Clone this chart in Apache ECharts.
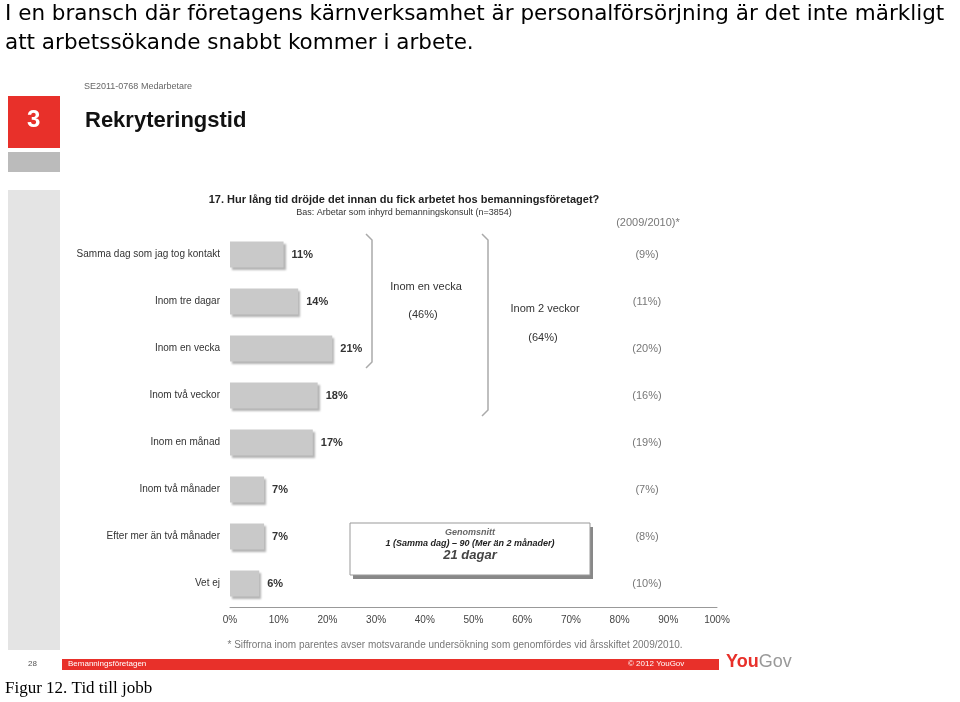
<!DOCTYPE html>
<html><head><meta charset="utf-8">
<script src="https://cdn.jsdelivr.net/npm/echarts@6/dist/echarts.min.js"></script>
<style>body{margin:0;background:#fff}#c{width:960px;height:702px}</style>
</head><body><div id="c"></div>
<script>
const categories = ['Samma dag som jag tog kontakt','Inom tre dagar','Inom en vecka','Inom två veckor','Inom en månad','Inom två månader','Efter mer än två månader','Vet ej'];
const values2012 = [11,14,21,18,17,7,7,6];
const prior = ['(9%)','(11%)','(20%)','(16%)','(19%)','(7%)','(8%)','(10%)'];
const xTicks = [0,10,20,30,40,50,60,70,80,90,100];

const chart = echarts.init(document.getElementById('c'));
const F = 'Liberation Sans, Arial, sans-serif';
function bracket(x, y1, y2, dir){
  return {type:'polyline', shape:{points:[[x-6*dir,y1],[x,y1+6],[x,y2-6],[x-6*dir,y2]]}, style:{stroke:'#aaa',lineWidth:1.5,fill:null}};
}
chart.setOption({
  animation:false,
  grid:{left:230,right:243,top:231,bottom:95},
  xAxis:{type:'value',min:0,max:100,interval:10,
    axisLine:{show:true,lineStyle:{color:'#999'}},axisTick:{show:false},splitLine:{show:false},
    axisLabel:{formatter:v=>v+'%',color:'#444',fontSize:10,fontFamily:F,margin:8}},
  yAxis:[{type:'category',inverse:true,data:categories,
    axisLine:{show:false},axisTick:{show:false},
    axisLabel:{color:'#333',fontSize:10,fontFamily:F,margin:10}},
   {type:'category',inverse:true,data:prior,position:'right',offset:-90,
    axisLine:{show:false},axisTick:{show:false},
    axisLabel:{color:'#777',fontSize:11,fontFamily:F,margin:20,align:'center'}}],
  series:[{type:'bar',data:values2012,barWidth:26,
    itemStyle:{color:'#c9c9c9',shadowColor:'rgba(0,0,0,0.3)',shadowBlur:2,shadowOffsetX:2,shadowOffsetY:2},
    label:{show:true,position:'right',formatter:'{c}%',fontFamily:F,fontWeight:'bold',fontSize:11,color:'#333',distance:8}}],
  graphic:[
    {type:'text',left:5,top:0,style:{text:'I en bransch där företagens kärnverksamhet är personalförsörjning är det inte märkligt\natt arbetssökande snabbt kommer i arbete.',font:'21.5px "DejaVu Sans"',fill:'#000',lineHeight:29}},
    {type:'text',left:84,top:82,style:{text:'SE2011-0768 Medarbetare',font:'9px '+F,fill:'#666'}},
    {type:'rect',shape:{x:8,y:96,width:52,height:52},style:{fill:'#e8302a'}},
    {type:'text',left:27,top:108,style:{text:'3',font:'bold 24px '+F,fill:'#fff'}},
    {type:'rect',shape:{x:8,y:152,width:52,height:20},style:{fill:'#bbb'}},
    {type:'rect',shape:{x:8,y:190,width:52,height:460},style:{fill:'#e4e4e4'}},
    {type:'text',left:85,top:110,style:{text:'Rekryteringstid',font:'bold 22px '+F,fill:'#111'}},
    {type:'text',x:404,y:194,style:{text:'17. Hur lång tid dröjde det innan du fick arbetet hos bemanningsföretaget?',font:'bold 11px '+F,fill:'#222',align:'center'}},
    {type:'text',x:404,y:208,style:{text:'Bas: Arbetar som inhyrd bemanningskonsult (n=3854)',font:'9px '+F,fill:'#333',align:'center'}},
    {type:'text',x:648,y:217,style:{text:'(2009/2010)*',font:'11px '+F,fill:'#777',align:'center'}},
    bracket(372,234,368,1),
    bracket(488,234,416,1),
    {type:'text',x:426,y:281,style:{text:'Inom en vecka',font:'11px '+F,fill:'#333',align:'center'}},
    {type:'text',x:423,y:309,style:{text:'(46%)',font:'11px '+F,fill:'#333',align:'center'}},
    {type:'text',x:545,y:303,style:{text:'Inom 2 veckor',font:'11px '+F,fill:'#333',align:'center'}},
    {type:'text',x:543,y:332,style:{text:'(64%)',font:'11px '+F,fill:'#333',align:'center'}},
    {type:'rect',shape:{x:353,y:527,width:240,height:52},style:{fill:'#888'}},
    {type:'rect',shape:{x:350,y:523,width:240,height:52},style:{fill:'#fff',stroke:'#999',lineWidth:1}},
    {type:'text',x:470,y:528,style:{text:'Genomsnitt',font:'italic bold 9px '+F,fill:'#666',align:'center'}},
    {type:'text',x:470,y:539,style:{text:'1 (Samma dag) – 90 (Mer än 2 månader)',font:'italic bold 9px '+F,fill:'#222',align:'center'}},
    {type:'text',x:470,y:549,style:{text:'21 dagar',font:'italic bold 13px '+F,fill:'#444',align:'center'}},
    {type:'text',x:455,y:640,style:{text:'* Siffrorna inom parentes avser motsvarande undersökning som genomfördes vid årsskiftet 2009/2010.',font:'10px '+F,fill:'#777',align:'center'}},
    {type:'text',x:28,y:660,style:{text:'28',font:'8px '+F,fill:'#555'}},
    {type:'rect',shape:{x:62,y:659,width:657,height:11},style:{fill:'#e8302a'}},
    {type:'text',x:68,y:660,style:{text:'Bemanningsföretagen',font:'8px '+F,fill:'#fff'}},
    {type:'text',x:628,y:660,style:{text:'© 2012 YouGov',font:'8px '+F,fill:'#fff'}},
    {type:'text',x:726,y:653,style:{text:'{a|You}{b|Gov}',rich:{a:{font:'bold 18px '+F,fill:'#e8302a'},b:{font:'18px '+F,fill:'#999'}}}},
    {type:'text',x:5,y:680,style:{text:'Figur 12. Tid till jobb',font:'17px "Liberation Serif"',fill:'#000'}}
  ]
});
</script></body></html>
